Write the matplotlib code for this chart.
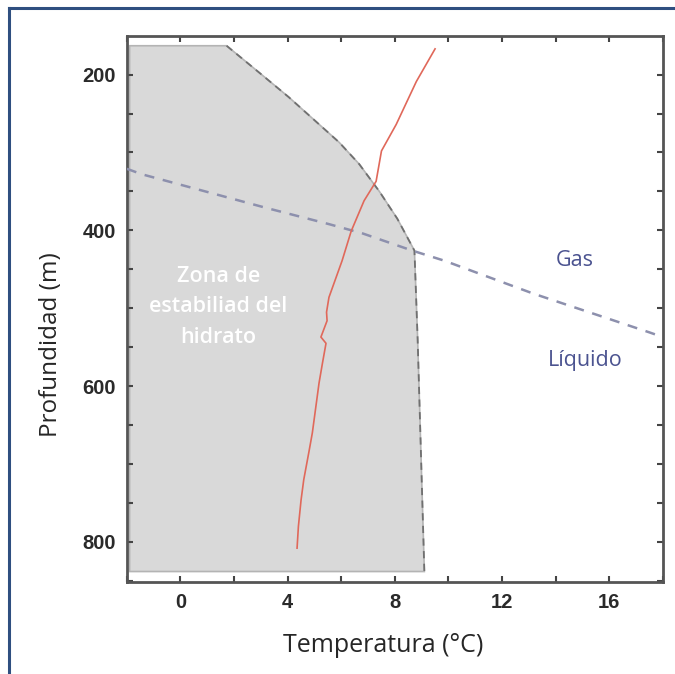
import matplotlib
matplotlib.use('Agg')
import matplotlib.pyplot as plt
from matplotlib.lines import Line2D
from matplotlib.ticker import MultipleLocator

# Temperature profile in the water column (red line).
profile_temp = [9.5, 8.8, 8.05, 7.5, 7.3, 6.85, 6.37, 6.03, 5.54, 5.45, 5.47,
                5.24, 5.43, 5.3, 5.17, 4.92, 4.8, 4.6, 4.5, 4.4, 4.35]
profile_depth = [167, 209, 264, 298, 337, 362, 401, 439, 486, 505, 516,
                 537, 545, 570, 596, 660, 683, 720, 746, 780, 808]

# Hydrate stability boundary (right edge of the gray zone).
boundary_temp = [1.72, 2.92, 4.04, 4.98, 5.92, 6.67, 7.42, 8.09, 8.73, 8.85, 9.1]
boundary_depth = [163, 197, 229, 258, 287, 315, 350, 385, 426, 540, 838]
# Limits of the gray zone on the other sides.
zone_left = -1.9
zone_top = 163
zone_bottom = 838

# Gas / liquid boundary (blue dashed line).
gas_temp = [-2, -1.44, 3.18, 5.54, 6.8, 8.65, 9.85, 13.15, 17.5, 18]
gas_depth = [321, 328, 371, 392, 404, 426, 439, 481, 531, 537]

x_ticks = [0, 4, 8, 12, 16]
y_ticks = [200, 400, 600, 800]

# Figure size in pixels / dpi.
DPI = 100
fig = plt.figure(figsize=(6.75, 6.74), dpi=DPI)
ax = fig.add_axes([0.188, 0.137, 0.794, 0.809])

# Gray stability zone, built from the boundary lists.
poly_t = [zone_left] + boundary_temp + [zone_left]
poly_d = [zone_top] + boundary_depth + [zone_bottom]
ax.fill(poly_t, poly_d, facecolor='#d9d9d9', edgecolor='#b4b4b4', lw=1.2, zorder=1)
ax.plot(boundary_temp, boundary_depth, color='#707070', lw=1.3,
        dashes=(4, 3), zorder=2)

# Gas / liquid line.
ax.plot(gas_temp, gas_depth, color='#8d90ad', lw=1.8, dashes=(4, 3.5), zorder=3)

# Temperature profile.
ax.plot(profile_temp, profile_depth, color='#e0685a', lw=1.2, zorder=4)

ax.set_xlim(-2, 18)
ax.set_ylim(851, 151)
ax.set_xticks(x_ticks)
ax.set_yticks(y_ticks)
ax.xaxis.set_minor_locator(MultipleLocator(2))
ax.yaxis.set_minor_locator(MultipleLocator(50))
ax.tick_params(which='both', direction='in', top=True, right=True,
               length=4, width=1.5, color='#444444')
ax.tick_params(which='major', labelsize=14.5, labelcolor='#2a2a2a', pad=8)
for lbl in ax.get_xticklabels() + ax.get_yticklabels():
    lbl.set_family('Liberation Sans')
    lbl.set_weight('bold')
for sp in ax.spines.values():
    sp.set_linewidth(2)
    sp.set_color('#555555')

ax.set_xlabel('Temperatura (°C)', family='Open Sans', fontsize=18,
              color='#262626')
ax.set_ylabel('Profundidad (m)', family='Open Sans', fontsize=17.5,
              color='#262626')
# Label placement in axes fractions (the reference is off-center).
ax.xaxis.set_label_coords(0.479, -0.095)
ax.yaxis.set_label_coords(-0.12, 0.434)

# Region labels.
ax.text(1.42, 498, 'Zona de\nestabiliad del\nhidrato', family='Open Sans',
        fontsize=15.5, color='white', weight='semibold', ha='center',
        va='center', linespacing=1.6, zorder=5)
ax.text(14.7, 439, 'Gas', family='Open Sans', fontsize=15.5,
        color='#4b5390', ha='center', va='center', zorder=5)
ax.text(15.1, 567, 'Líquido', family='Open Sans', fontsize=15.5,
        color='#4b5390', ha='center', va='center', zorder=5)

# Blue frame on the left and top of the picture.
frame = dict(color='#2f4f80', lw=2.2, transform=fig.transFigure)
fig.add_artist(Line2D([0.013, 0.013], [0.0, 0.988], **frame))
fig.add_artist(Line2D([0.013, 1.0], [0.988, 0.988], **frame))

fig.savefig('out.png', dpi=DPI, facecolor='white')
plt.close(fig)
